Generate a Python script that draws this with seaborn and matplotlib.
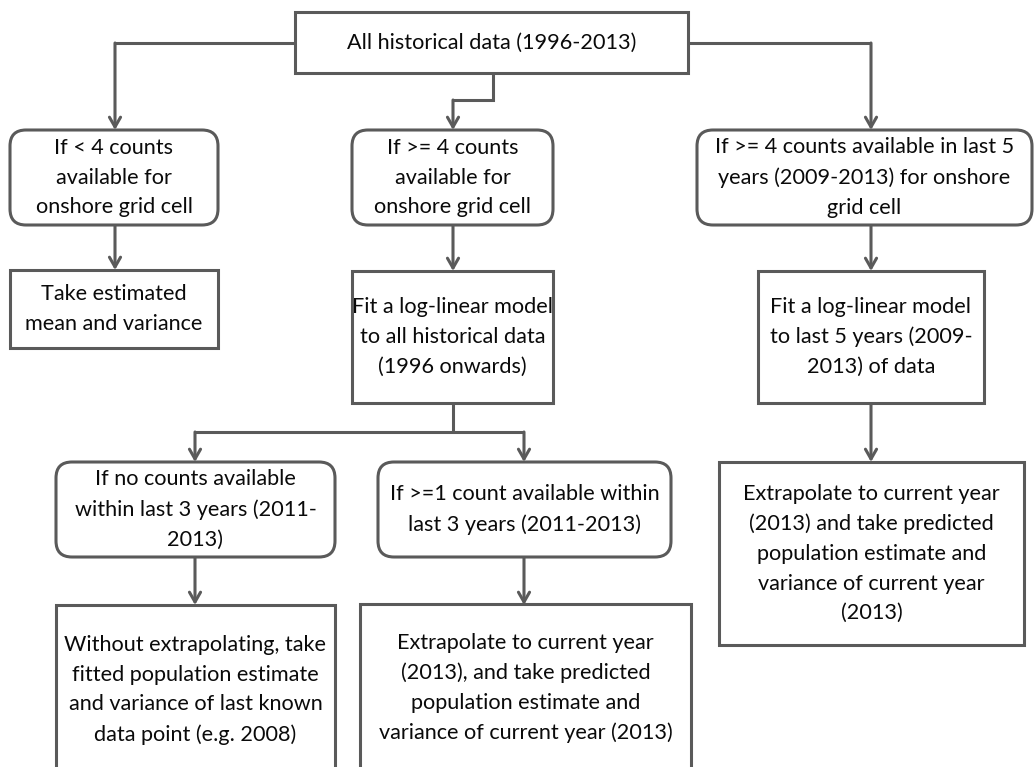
import matplotlib
matplotlib.use("Agg")
import matplotlib.pyplot as plt
import seaborn as sns
from matplotlib.patches import FancyBboxPatch

sns.set_theme(style="white")
plt.rcParams['font.family'] = ['Lato', 'DejaVu Sans']

# Node texts
top_text = "All historical data (1996-2013)"
cond_texts = [
    "If < 4 counts\navailable for\nonshore grid cell",
    "If >= 4 counts\navailable for\nonshore grid cell",
    "If >= 4 counts available in last 5\nyears (2009-2013) for onshore\ngrid cell",
]
step_texts = [
    "Take estimated\nmean and variance",
    "Fit a log-linear model\nto all historical data\n(1996 onwards)",
    "Fit a log-linear model\nto last 5 years (2009-\n2013) of data",
]
sub_cond_texts = [
    "If no counts available\nwithin last 3 years (2011-\n2013)",
    "If >=1 count available within\nlast 3 years (2011-2013)",
]
result_texts = [
    "Without extrapolating, take\nfitted population estimate\nand variance of last known\ndata point (e.g. 2008)",
    "Extrapolate to current year\n(2013), and take predicted\npopulation estimate and\nvariance of current year (2013)",
    "Extrapolate to current year\n(2013) and take predicted\npopulation estimate and\nvariance of current year\n(2013)",
]

W, H = 1035, 767
fig = plt.figure(figsize=(W / 100, H / 100), dpi=100)
ax = fig.add_axes([0, 0, 1, 1])
ax.set_xlim(0, W)
ax.set_ylim(H, 0)
ax.axis("off")

EC = "#5a5a5a"
LW = 2.2
FS = 15.6


def box(x0, y0, x1, y1, text, rounded=False, ty=None):
    if rounded:
        style = "round,pad=0,rounding_size=16"
    else:
        style = "square,pad=0"
    p = FancyBboxPatch((x0, y0), x1 - x0, y1 - y0, boxstyle=style,
                       fc="white", ec=EC, lw=LW, zorder=2)
    ax.add_patch(p)
    cy = (y0 + y1) / 2 if ty is None else ty
    ax.text((x0 + x1) / 2, cy, text, ha="center", va="center",
            fontsize=FS, color="#0a0a0a", linespacing=1.6, zorder=3)


def path(points):
    pts = list(points)
    if len(pts) > 2:
        xs = [p[0] for p in pts[:-1]]
        ys = [p[1] for p in pts[:-1]]
        ax.plot(xs, ys, color=EC, lw=LW, solid_capstyle="butt",
                solid_joinstyle="miter", zorder=1)
    ax.annotate("", xy=pts[-1], xytext=pts[-2],
                arrowprops=dict(arrowstyle="->,head_length=0.7,head_width=0.4",
                                color=EC, lw=LW, shrinkA=0, shrinkB=0,
                                mutation_scale=10),
                zorder=1)


# connectors
path([(295, 43), (115, 43), (115, 130)])
path([(493, 73), (493, 100), (453, 100), (453, 130)])
path([(688, 43), (871, 43), (871, 130)])
path([(115, 225), (115, 270)])
path([(453, 225), (453, 271)])
path([(871, 225), (871, 271)])
ax.plot([453, 453], [403, 432], color=EC, lw=LW, zorder=1)
path([(453, 432), (195, 432), (195, 462)])
path([(453, 432), (524, 432), (524, 462)])
path([(871, 403), (871, 462)])
path([(195, 557), (195, 605)])
path([(524, 557), (524, 605)])

# boxes
box(295, 12, 688, 73, top_text)
box(10, 130, 218, 225, cond_texts[0], rounded=True)
box(352, 130, 553, 225, cond_texts[1], rounded=True)
box(697, 130, 1032, 225, cond_texts[2], rounded=True)
box(10, 270, 218, 348, step_texts[0])
box(352, 271, 553, 403, step_texts[1])
box(758, 271, 984, 403, step_texts[2])
box(56, 462, 335, 557, sub_cond_texts[0], rounded=True)
box(378, 462, 671, 557, sub_cond_texts[1], rounded=True)
box(719, 462, 1024, 645, result_texts[2])
box(56, 605, 335, 800, result_texts[0], ty=690)
box(360, 604, 691, 800, result_texts[1], ty=688)

fig.savefig("out.png", dpi=100)
